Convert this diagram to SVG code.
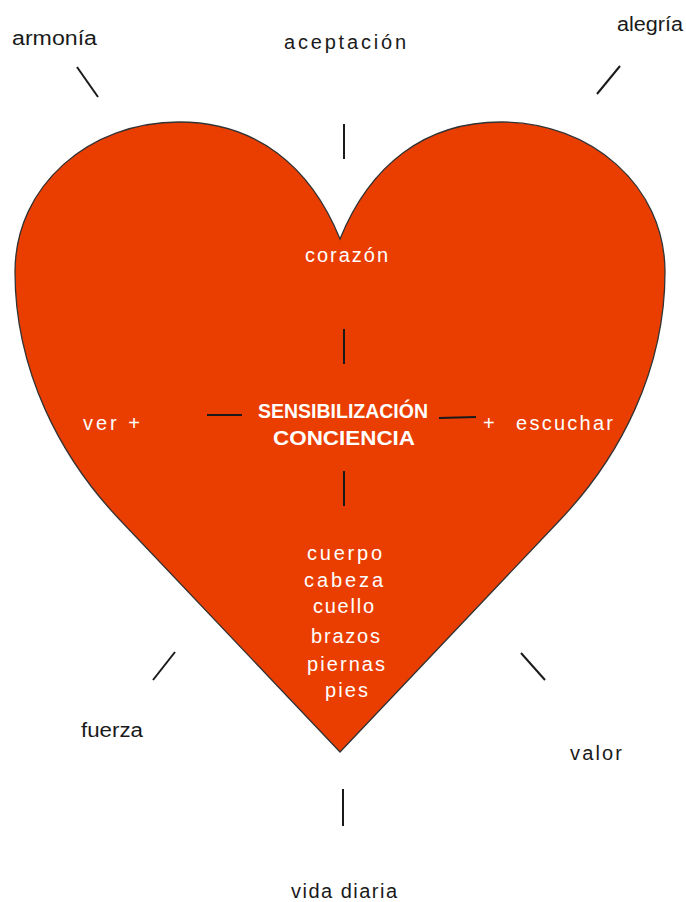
<svg xmlns="http://www.w3.org/2000/svg" width="686" height="902" viewBox="0 0 686 902">
<style>
.lbl{font-family:"Liberation Sans",Arial,sans-serif;font-size:20px;fill:#1a1a1a}
.w{font-family:"Liberation Sans",Arial,sans-serif;font-size:20px;fill:#ffffff}
.b{font-family:"Liberation Sans",Arial,sans-serif;font-size:20px;font-weight:bold;fill:#ffffff}
.c{stroke:#1a1a1a;stroke-width:2;fill:none}
</style>
<rect width="686" height="902" fill="#ffffff"/>
<g id="heart">
<path d="M340,239 C310,165 255,122 179,122 C90,122 15,185 15,272 C15,370 60,457 120,520 L340,752 L560,520 C620,457 665,370 665,272 C665,185 590,122 501,122 C425,122 370,165 340,239 Z" fill="#EA3E00" stroke="#333333" stroke-width="1.3"/>
</g>
<g id="connectors">
<line class="c" x1="77" y1="67" x2="98" y2="97"/>
<line class="c" x1="620" y1="66" x2="597" y2="94"/>
<line class="c" x1="344" y1="124" x2="344" y2="159"/>
<line class="c" x1="344" y1="329" x2="344" y2="364"/>
<line class="c" x1="207" y1="415" x2="242" y2="415"/>
<line class="c" x1="439" y1="418" x2="476" y2="417" stroke-width="2.5"/>
<line class="c" x1="344" y1="471" x2="344" y2="506"/>
<line class="c" x1="175" y1="652" x2="153" y2="680"/>
<line class="c" x1="521" y1="653" x2="545" y2="680"/>
<line class="c" x1="343" y1="789" x2="343" y2="826"/>
</g>
<g id="armonia"><text class="lbl" x="12" y="45" textLength="85" lengthAdjust="spacingAndGlyphs">armonía</text></g>
<g id="aceptacion"><text class="lbl" x="284" y="49" textLength="122" lengthAdjust="spacing">aceptación</text></g>
<g id="alegria"><text class="lbl" x="617" y="31" textLength="66" lengthAdjust="spacingAndGlyphs">alegría</text></g>
<g id="corazon"><text class="w" x="305" y="262" textLength="83" lengthAdjust="spacing">corazón</text></g>
<g id="centro">
<text class="b" x="258" y="418" textLength="170" lengthAdjust="spacingAndGlyphs">SENSIBILIZACIÓN</text>
<text class="b" x="273" y="445" textLength="142" lengthAdjust="spacingAndGlyphs">CONCIENCIA</text>
</g>
<g id="ver"><text class="w" x="83" y="430" textLength="57" lengthAdjust="spacing">ver +</text></g>
<g id="escuchar">
<text class="w" x="483" y="430">+</text>
<text class="w" x="516" y="430" textLength="97" lengthAdjust="spacing">escuchar</text>
</g>
<g id="cuerpo">
<text class="w" x="307" y="560" textLength="75" lengthAdjust="spacing">cuerpo</text>
<text class="w" x="304" y="587" textLength="79" lengthAdjust="spacing">cabeza</text>
<text class="w" x="313" y="613" textLength="61" lengthAdjust="spacing">cuello</text>
<text class="w" x="311" y="643" textLength="69" lengthAdjust="spacing">brazos</text>
<text class="w" x="307" y="671" textLength="78" lengthAdjust="spacing">piernas</text>
<text class="w" x="325" y="697" textLength="43" lengthAdjust="spacing">pies</text>
</g>
<g id="fuerza"><text class="lbl" x="81" y="737" textLength="62" lengthAdjust="spacingAndGlyphs">fuerza</text></g>
<g id="valor"><text class="lbl" x="570" y="760" textLength="52" lengthAdjust="spacing">valor</text></g>
<g id="vida"><text class="lbl" x="291" y="898" textLength="106" lengthAdjust="spacing">vida diaria</text></g>
</svg>
